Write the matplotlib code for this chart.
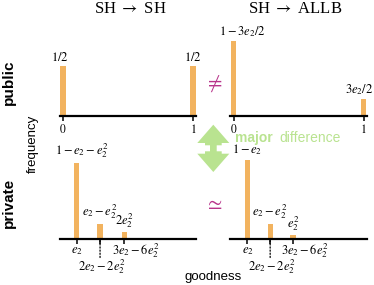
import matplotlib

matplotlib.use("Agg")
import matplotlib.pyplot as plt
from matplotlib.patches import Polygon

plt.rcParams["mathtext.fontset"] = "stix"
plt.rcParams["font.family"] = ["Liberation Sans", "DejaVu Sans"]

W, H = 374, 285
BAR = "#f2b35f"
GREEN = "#b9e390"
MAGENTA = "#b8348a"
SERIF = ["Liberation Serif", "DejaVu Serif"]

# column titles and row names
titles = [r"SH $\rightarrow$ SH", r"SH $\rightarrow$ ALLB"]
rows = ["public", "private"]

# public: goodness 0 / 1
pub_sh_x = [0.0, 1.0]
pub_sh_freq = [0.50, 0.50]
pub_sh_labels = ["$1/2$", "$1/2$"]

pub_allb_x = [0.0, 1.0]
pub_allb_freq = [0.75, 0.17]
pub_allb_labels = ["$1-3e_2/2$", "$3e_2/2$"]

# private: goodness e2, 2e2-2e2^2, 3e2-6e2^2
priv_sh_x = [0.105, 0.285, 0.473]
priv_sh_freq = [0.76, 0.15, 0.065]
priv_sh_labels = ["$1-e_2-e_2^2$", "$e_2-e_2^2$", "$2e_2^2$"]

priv_allb_x = [0.107, 0.282, 0.458]
priv_allb_freq = [0.79, 0.15, 0.035]
priv_allb_labels = ["$1-e_2$", "$e_2-e_2^2$", "$e_2^2$"]

priv_ticklabels = ["$e_2$", "$2e_2-2e_2^2$", "$3e_2-6e_2^2$"]


def fig_xy(x, y):
    """pixel coords (origin top-left) -> figure fraction"""
    return x / W, 1 - y / H


def make_axes(fig, left_px, base_px):
    ax = fig.add_axes([left_px / W, 1 - base_px / H, 136.5 / W, 100 / H])
    ax.set_xlim(-0.025, 1.025)
    ax.set_ylim(0, 1)
    for side in ["top", "right", "left"]:
        ax.spines[side].set_visible(False)
    ax.spines["bottom"].set_linewidth(1.6)
    ax.set_yticks([])
    ax.tick_params(axis="x", direction="out", length=3.5, width=1.1, pad=1.5,
                   labelsize=8.5)
    ax.patch.set_alpha(0)
    return ax


def draw_bars(ax, xs, freqs, labels, shifts):
    ax.bar(xs, freqs, width=0.04, color=BAR, clip_on=False)
    for x, f, lab, dx in zip(xs, freqs, labels, shifts):
        ax.annotate(lab, (x, f), xytext=(dx, 1.5), textcoords="offset points",
                    ha="center", va="bottom", fontsize=9)


fig = plt.figure(figsize=(W / 100, H / 100), dpi=100)

ax_pl = make_axes(fig, 59.75, 116)
ax_pr = make_axes(fig, 230.25, 116)
ax_ql = make_axes(fig, 59.75, 238.5)
ax_qr = make_axes(fig, 230.25, 238.5)

draw_bars(ax_pl, pub_sh_x, pub_sh_freq, pub_sh_labels, [-2, 0])
draw_bars(ax_pr, pub_allb_x, pub_allb_freq, pub_allb_labels, [6.5, -3])
draw_bars(ax_ql, priv_sh_x, priv_sh_freq, priv_sh_labels, [3.5, 0, 0])
draw_bars(ax_qr, priv_allb_x, priv_allb_freq, priv_allb_labels, [0, 0, 0])

for ax in (ax_pl, ax_pr):
    ax.set_xticks([0, 1])
    ax.set_xticklabels(["$0$", "$1$"])

for ax, xs in ((ax_ql, priv_sh_x), (ax_qr, priv_allb_x)):
    ax.set_xticks(xs)
    ax.set_xticklabels([])
    ax.annotate(priv_ticklabels[0], (xs[0], 0), xytext=(0, -9),
                textcoords="offset points", ha="center", va="center", fontsize=9)
    ax.annotate(priv_ticklabels[2], (xs[2], 0), xytext=(8.5, -9),
                textcoords="offset points", ha="center", va="center", fontsize=9)
    ax.annotate(priv_ticklabels[1], (xs[1], 0), xytext=(1, -20),
                textcoords="offset points", ha="center", va="center", fontsize=9)
    ax.annotate("", (xs[1], 0), xytext=(xs[1], -0.19),
                arrowprops=dict(arrowstyle="-", linestyle=(0, (1, 1.5)),
                                color="black", lw=0.9, shrinkA=0, shrinkB=0))

# titles
fig.text(*fig_xy(130, 9), titles[0], ha="center", va="center", fontsize=12,
         family=SERIF)
fig.text(*fig_xy(295, 9), titles[1], ha="center", va="center", fontsize=12,
         family=SERIF)

# row / axis names
fig.text(*fig_xy(9, 82), rows[0], rotation=90, ha="center", va="center",
         fontsize=11, fontweight="bold")
fig.text(*fig_xy(9, 203), rows[1], rotation=90, ha="center", va="center",
         fontsize=11, fontweight="bold")
fig.text(*fig_xy(33, 144), "frequency", rotation=90, ha="center",
         va="center", fontsize=9.5)
fig.text(*fig_xy(213, 277), "goodness", ha="center", va="center",
         fontsize=9.5)

# comparison symbols
fig.text(*fig_xy(213, 84), r"$\neq$", ha="center", va="center", fontsize=15,
         color=MAGENTA)
fig.text(*fig_xy(213, 203), r"$\simeq$", ha="center", va="center",
         fontsize=15, color=MAGENTA)

# double-headed arrow between rows
arrow_px = [
    (213.3, 124.7), (229.3, 143.0), (221.7, 143.0), (221.7, 145.3),
    (216.7, 145.3), (216.7, 151.3), (221.7, 151.3), (221.7, 153.7),
    (229.3, 153.7), (213.3, 172.0), (197.3, 153.7), (205.0, 153.7),
    (205.0, 151.3), (210.0, 151.3), (210.0, 145.3), (205.0, 145.3),
    (205.0, 143.0), (197.3, 143.0),
]
fig.add_artist(Polygon([fig_xy(x, y) for x, y in arrow_px], closed=True,
                       transform=fig.transFigure, facecolor=GREEN,
                       edgecolor="none"))
fig.text(*fig_xy(235, 138), "major", ha="left", va="center", fontsize=10,
         fontweight="bold", color=GREEN)
fig.text(*fig_xy(279, 138), "difference", ha="left", va="center",
         fontsize=10, color=GREEN)

fig.savefig("out.png", dpi=100)
